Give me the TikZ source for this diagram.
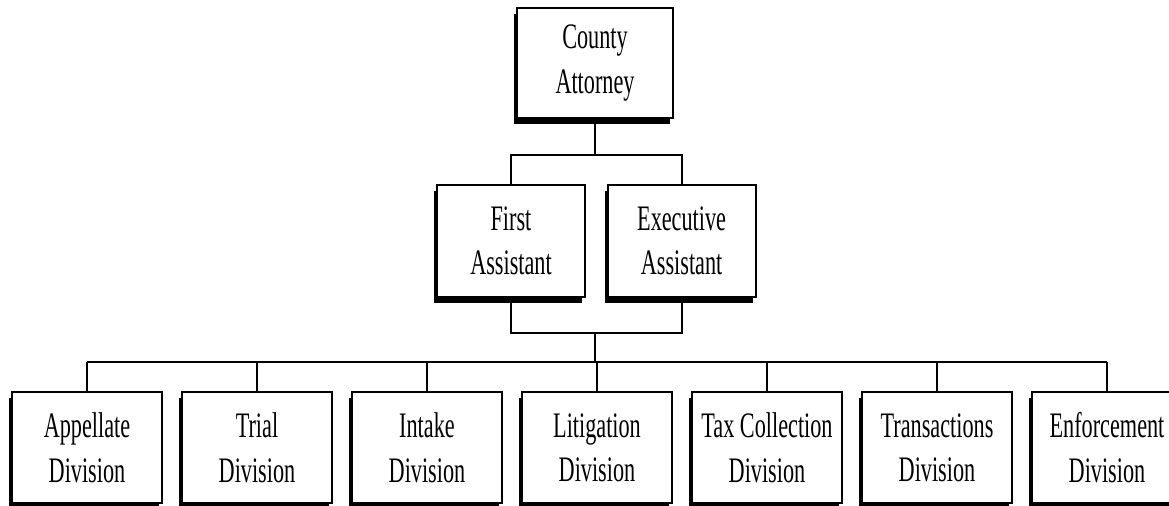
\documentclass[tikz,border=0pt]{standalone}
\usepackage{fontspec}
\setmainfont{Liberation Serif}[FakeStretch=0.62]
\usepackage{tikz}
\usetikzlibrary{shadows}

\begin{document}
\begin{tikzpicture}[
  office/.style={draw,line width=1.4pt,fill=white,align=center,
    font=\fontsize{25.5}{31.5}\selectfont,
    drop shadow={shadow xshift=-0.075cm,shadow yshift=-0.15cm,fill=black,opacity=1}},
  link/.style={line width=1.3pt}]
\useasboundingbox (0,0) rectangle (29.225,-12.65);
\node[office,minimum width=3.9cm,minimum height=2.75cm] (ca) at (14.875,-1.575) {County\\Attorney};
\node[office,minimum width=3.7cm,minimum height=2.8cm] (fa) at (12.775,-6.025) {First\\Assistant};
\node[office,minimum width=3.7cm,minimum height=2.8cm] (ea) at (17.04,-6.025) {Executive\\Assistant};
\coordinate (t1) at (14.875,-3.875);
\coordinate (t2) at (14.875,-8.325);
\coordinate (t3) at (14.875,-9.05);
\foreach \n [count=\i] in {Appellate,Trial,Intake,Litigation,Tax Collection,Transactions,Enforcement}
  \node[office,minimum width=3.75cm,minimum height=2.775cm] (d\i) at ({2.175+4.25*(\i-1)},-11.19) {\n\\Division};
\draw[link] (ca.south) -- (t1);
\draw[link] (fa.north) |- (t1) -| (ea.north);
\draw[link] (fa.south) |- (t2) -| (ea.south);
\draw[link] (t2) -- (t3);
\draw[link] (d1.north |- t3) -- (d7.north |- t3);
\foreach \i in {1,...,7}
  \draw[link] (d\i.north) -- (d\i.north |- t3);
\end{tikzpicture}
\end{document}
